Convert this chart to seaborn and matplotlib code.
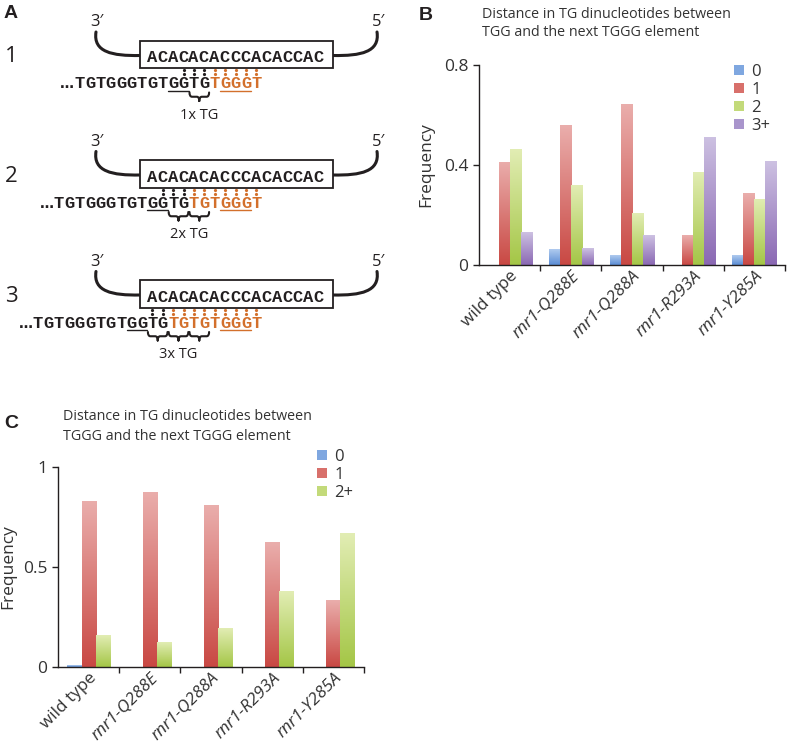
import numpy as np
import pandas as pd
import matplotlib
matplotlib.use("Agg")
import matplotlib.pyplot as plt
import seaborn as sns
from matplotlib.path import Path
from matplotlib.patches import PathPatch, Rectangle
from matplotlib.colors import LinearSegmentedColormap
import matplotlib.transforms as mtransforms

# ---------------- data ----------------
strains = ["wild type", "rnr1-Q288E", "rnr1-Q288A", "rnr1-R293A", "rnr1-Y285A"]

b_categories = ["0", "1", "2", "3+"]
b_d0 = [0.0, 0.063, 0.040, 0.0, 0.040]
b_d1 = [0.413, 0.560, 0.644, 0.120, 0.287]
b_d2 = [0.463, 0.320, 0.207, 0.373, 0.265]
b_d3 = [0.131, 0.068, 0.120, 0.513, 0.416]
b_yticks = [0, 0.4, 0.8]
b_ytick_labels = ["0", "0.4", "0.8"]
b_title = "Distance in TG dinucleotides between\nTGG and the next TGGG element"

c_categories = ["0", "1", "2+"]
c_d0 = [0.008, 0.0, 0.0, 0.0, 0.0]
c_d1 = [0.833, 0.878, 0.809, 0.624, 0.334]
c_d2 = [0.159, 0.122, 0.194, 0.380, 0.669]
c_yticks = [0, 0.5, 1]
c_ytick_labels = ["0", "0.5", "1"]
c_title = "Distance in TG dinucleotides between\nTGGG and the next TGGG element"

# panel A sequences
box_seq = "ACACACACCCACACCAC"
tail_black = "TGTGGGTGTGGTG"
orange_parts = ["TGGGT", "TGTGGGT", "TGTGTGGGT"]
n_black_dots = [3, 3, 2]
tg_counts = [1, 2, 3]

# ---------------- style ----------------
sns.set_style("ticks")
SANS = ["Open Sans", "DejaVu Sans"]
plt.rcParams["font.family"] = SANS
INK = "#231f20"
TXT = "#333333"
ORANGE = "#d3702c"
MONO = ["Liberation Mono", "DejaVu Sans Mono"]

dark_cols = ["#5a8cd4", "#c94843", "#a4c646", "#8a68b3"]
light_cols = ["#b0cbef", "#eaaeac", "#e2edb4", "#cdc1e2"]
mid_cols = ["#7fa7e0", "#d8706b", "#c3da7a", "#a995cc"]

W, H = 788, 749
fig = plt.figure(figsize=(W / 100, H / 100), dpi=100)


def fx(x):
    return x / W


def fy(y):
    return 1 - y / H


# ---------------- panel A (diagram) ----------------
axA = fig.add_axes([0, 0, 1, 1])
axA.set_xlim(0, W)
axA.set_ylim(H, 0)
axA.axis("off")
axA.patch.set_alpha(0)

CW = 10.4                      # character spacing in pixels
SEQ_PT = 12.3
x_last = 256.5
offsets = [0, 119.5, 239.5]


def brace(ax, x0, x1, ytop, h=8.5, color=INK, lw=1.5):
    xm = (x0 + x1) / 2
    ym = ytop + h * 0.5
    yb = ytop + h
    r = 2.5
    verts = [(x0, ytop), (x0, ym), (x0 + r, ym), (xm - r, ym), (xm, ym), (xm, yb),
             (x1, ytop), (x1, ym), (x1 - r, ym), (xm + r, ym), (xm, ym), (xm, yb)]
    codes = [Path.MOVETO, Path.CURVE3, Path.CURVE3, Path.LINETO, Path.CURVE3, Path.CURVE3,
             Path.MOVETO, Path.CURVE3, Path.CURVE3, Path.LINETO, Path.CURVE3, Path.CURVE3]
    ax.add_patch(PathPatch(Path(verts, codes), fill=False, edgecolor=color, lw=lw,
                           capstyle="round", joinstyle="round"))


axA.text(4, 14, "A", fontsize=14, fontweight="bold", family=["Liberation Sans"],
         color=INK, va="center", ha="left")

for p in range(3):
    dy = offsets[p]
    axA.text(11, 57 + dy, str(p + 1), fontsize=16, color=INK, ha="center", va="center",
             family=SANS)
    axA.text(97, 22 + dy, "3\u2032", fontsize=12, color=INK, ha="center", va="center",
             family=SANS)
    axA.text(379, 22 + dy, "5\u2032", fontsize=12, color=INK, ha="center", va="center",
             family=SANS)
    # arcs
    lv = [(96, 32 + dy), (93, 52 + dy), (112, 56 + dy), (140, 55.5 + dy)]
    rv = [(333, 55.5 + dy), (361, 56 + dy), (380, 52 + dy), (377, 32 + dy)]
    for v in (lv, rv):
        axA.add_patch(PathPatch(Path(v, [Path.MOVETO, Path.CURVE4, Path.CURVE4, Path.CURVE4]),
                                fill=False, edgecolor=INK, lw=2.2, capstyle="round"))
    axA.add_patch(Rectangle((140, 40.7 + dy), 193, 27.6, facecolor="white",
                            edgecolor=INK, lw=1.3, zorder=3))
    for j, ch in enumerate(box_seq):
        axA.text(152 + j * CW, 62.3 + dy, ch, fontsize=SEQ_PT, family=MONO,
                 fontweight="bold", color=INK, ha="center", va="baseline", zorder=4)
    chars = tail_black + orange_parts[p]
    n = len(chars)
    nb = len(tail_black)
    xs = [x_last - (n - 1 - i) * CW for i in range(n)]
    for i, ch in enumerate(chars):
        axA.text(xs[i], 88.3 + dy, ch, fontsize=SEQ_PT, family=MONO, fontweight="bold",
                 color=INK if i < nb else ORANGE, ha="center", va="baseline")
    axA.text(xs[0] - 5.5, 88.3 + dy, "\u2026", fontsize=10, family="DejaVu Sans",
             fontweight="bold", color=INK, ha="right", va="baseline")
    # pairing dots
    first = nb - n_black_dots[p]
    for i in range(first, n):
        col = INK if i < nb else ORANGE
        axA.plot([xs[i], xs[i]], [70.3 + dy, 74.3 + dy], ls="none", marker="o",
                 ms=2.3, mec="none", mfc=col)
    # underlines
    axA.plot([xs[9] - 5, xs[10] + 5], [90.8 + dy] * 2, color=INK, lw=1.0)
    axA.plot([xs[n - 4] - 5, xs[n - 2] + 5], [90.8 + dy] * 2, color=ORANGE, lw=1.0)
    # braces
    k = tg_counts[p]
    for t in range(k):
        a, b = 11 + 2 * t, 12 + 2 * t
        brace(axA, xs[a] - 4.6, xs[b] + 4.6, 92.5 + dy)
    xc = (xs[11] - 5 + xs[12 + 2 * (k - 1)] + 5) / 2
    axA.text(xc, 119 + dy, f"{k}x TG", fontsize=10.5, color=INK, ha="center",
             va="baseline", family=SANS)

# ---------------- bar panels ----------------


def bar_panel(rect, values, cats, yticks, ylabels, width, title, title_xy, letter_xy,
              legend_xy, ylabel_x):
    ax = fig.add_axes(rect)
    rows = []
    for cat, vals in zip(cats, values):
        for s, v in zip(strains, vals):
            rows.append({"strain": s, "dist": cat, "freq": v})
    df = pd.DataFrame(rows)
    sns.barplot(data=df, x="strain", y="freq", hue="dist", order=strains,
                hue_order=cats, palette=mid_cols[:len(cats)], width=width, gap=0,
                saturation=1, errorbar=None, legend=False, ax=ax)
    grad = np.linspace(1, 0, 256).reshape(-1, 1)
    for k, cont in enumerate(ax.containers):
        cmap = LinearSegmentedColormap.from_list("g", [light_cols[k], dark_cols[k]])
        for bar in cont:
            bar.set_edgecolor("none")
            h = bar.get_height()
            if h <= 0:
                bar.set_visible(False)
                continue
            x0 = bar.get_x()
            w = bar.get_width()
            im = ax.imshow(grad, extent=[x0, x0 + w, 0, h], origin="lower", cmap=cmap,
                           vmin=0, vmax=1, aspect="auto", zorder=bar.get_zorder() + 0.1,
                           interpolation="bilinear")
            im.set_clip_path(bar)
    ax.set_xlim(-0.5, len(strains) - 0.5)
    ax.set_ylim(0, yticks[-1])
    ax.set_yticks(yticks)
    ax.set_yticklabels(ylabels)
    ax.set_xticks([i + 0.5 for i in range(len(strains))])
    ax.set_xticklabels([])
    ax.set_xticks(range(len(strains)), minor=True)
    labs = ax.set_xticklabels(strains, minor=True, rotation=45, ha="right",
                              rotation_mode="anchor", fontsize=12.3, color=TXT)
    for lab in labs:
        if lab.get_text().startswith("rnr1"):
            lab.set_style("italic")
        lab.set_transform(lab.get_transform() +
                          mtransforms.ScaledTranslation(20 / 72, 0, fig.dpi_scale_trans))
    ax.tick_params(axis="x", which="minor", length=0, pad=2)
    ax.tick_params(axis="both", which="major", length=4, width=1.0, color=INK,
                   labelsize=12.5, labelcolor=TXT, direction="out")
    ax.set_xlabel("")
    ax.set_ylabel("Frequency", fontsize=12.5, color=TXT)
    ax.yaxis.set_label_coords(ylabel_x, 0.5)
    sns.despine(ax=ax)
    for sp in ("left", "bottom"):
        ax.spines[sp].set_linewidth(1.0)
        ax.spines[sp].set_color(INK)
    ax.patch.set_alpha(0)
    # title & letter
    lines = title.split("\n")
    for i, line in enumerate(lines):
        fig.text(fx(title_xy[0]), fy(title_xy[1] + 19 * i), line, fontsize=10.3,
                 color=TXT, ha="left", va="center")
    fig.text(fx(letter_xy[0]), fy(letter_xy[1]), letter_xy[2], fontsize=14,
             fontweight="bold", family=["Liberation Sans"], color=INK, va="center")
    handles = [Rectangle((0, 0), 1, 1, facecolor=mid_cols[k], edgecolor="none")
               for k in range(len(cats))]
    ax.legend(handles, cats, loc="upper left",
              bbox_to_anchor=(fx(legend_xy[0]), fy(legend_xy[1])),
              bbox_transform=fig.transFigure, frameon=False, fontsize=12,
              handlelength=0.6, handleheight=0.6, handletextpad=0.45,
              labelspacing=0.12, borderpad=0, borderaxespad=0,
              labelcolor=TXT)
    return ax


bar_panel([fx(479), fy(265), (785 - 479) / W, (265 - 65) / H],
          [b_d0, b_d1, b_d2, b_d3], b_categories, b_yticks, b_ytick_labels, 0.72,
          b_title, (482, 14), (419, 15, "B"), (734, 64), -0.145)

bar_panel([fx(58), fy(666.7), (364 - 58) / W, (666.7 - 467.3) / H],
          [c_d0, c_d1, c_d2], c_categories, c_yticks, c_ytick_labels, 0.69,
          c_title, (63, 417), (4, 423, "C"), (317, 449), -0.135)

fig.savefig("out.png", dpi=100)
